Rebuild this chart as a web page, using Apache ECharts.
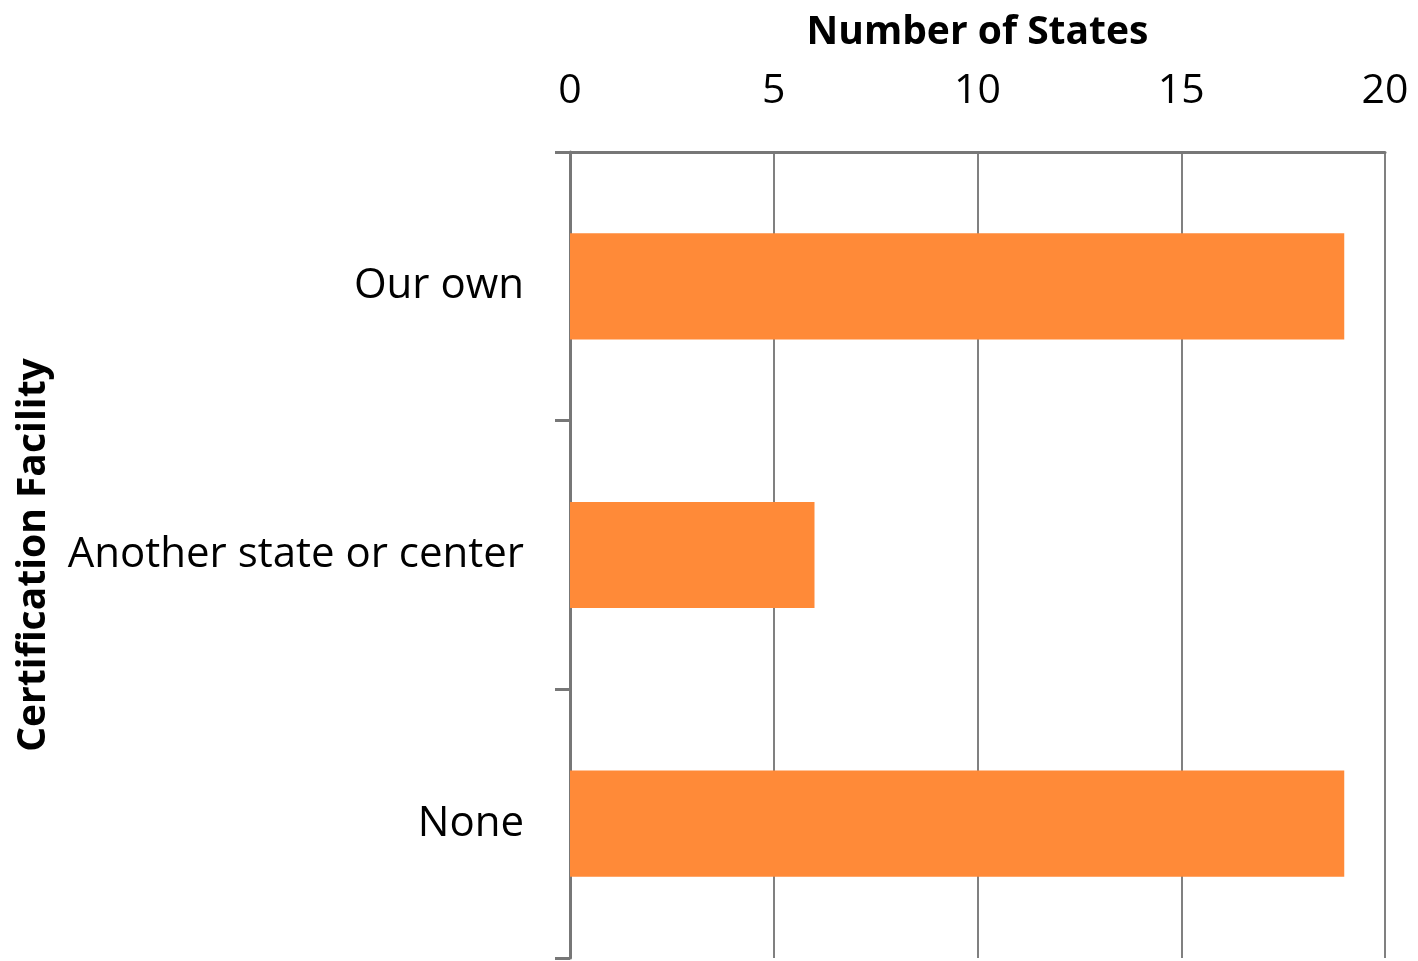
<!DOCTYPE html>
<html>
<head>
<meta charset="utf-8">
<title>Certification Facility</title>
<script src="https://cdn.jsdelivr.net/npm/echarts@6/dist/echarts.min.js"></script>
<style>
	html, body { margin: 0; padding: 0; background: #fff; }
	#main { width: 1418px; height: 961px; }
</style>
</head>
<body>
<div id="main"></div>
<script>
'use strict';
// categories and values
var categories = ['Our own', 'Another state or center', 'None'];
var stateCounts = [19, 6, 19];
var xTicks = [0, 5, 10, 15, 20];

var fontFamily = '"Open Sans", sans-serif';
var gray = '#808080';

var chart = echarts.init(document.getElementById('main'));

var option = {
	animation : false,
	grid : {
		left : 570,
		right : 33,
		top : 152,
		bottom : 3,
		containLabel : false,
		outerBoundsMode : 'none'
	},
	xAxis : {
		type : 'value',
		position : 'top',
		min : xTicks[0],
		max : xTicks[xTicks.length - 1],
		interval : xTicks[1] - xTicks[0],
		name : 'Number of States',
		nameLocation : 'middle',
		nameGap : 100,
		nameMoveOverlap : false,
		nameTextStyle : {
			fontFamily : fontFamily,
			fontSize : 39,
			fontWeight : 'bold',
			color : '#000'
		},
		axisLine : {
			show : true,
			lineStyle : { color : '#777', width : 3 }
		},
		axisTick : { show : false },
		axisLabel : {
			fontFamily : fontFamily,
			fontSize : 41,
			color : '#000',
			margin : 40
		},
		splitLine : {
			show : true,
			lineStyle : { color : gray, width : 2 }
		}
	},
	yAxis : {
		type : 'category',
		data : categories,
		inverse : true,
		name : 'Certification Facility',
		nameLocation : 'middle',
		nameGap : 517,
		nameRotate : 90,
		nameMoveOverlap : false,
		nameTextStyle : {
			fontFamily : fontFamily,
			fontSize : 39,
			fontWeight : 'bold',
			color : '#000'
		},
		axisLine : {
			show : true,
			lineStyle : { color : '#777', width : 3 }
		},
		axisTick : {
			show : true,
			inside : false,
			length : 15,
			lineStyle : { color : '#777', width : 3 }
		},
		axisLabel : {
			fontFamily : fontFamily,
			fontSize : 42,
			color : '#000',
			margin : 46,
			padding : [6, 0, 0, 0]
		},
		splitLine : { show : false }
	},
	series : [ {
		type : 'bar',
		data : stateCounts,
		barWidth : '39.5%',
		itemStyle : { color : '#FF8A38' }
	} ]
};

chart.setOption(option);
</script>
</body>
</html>
